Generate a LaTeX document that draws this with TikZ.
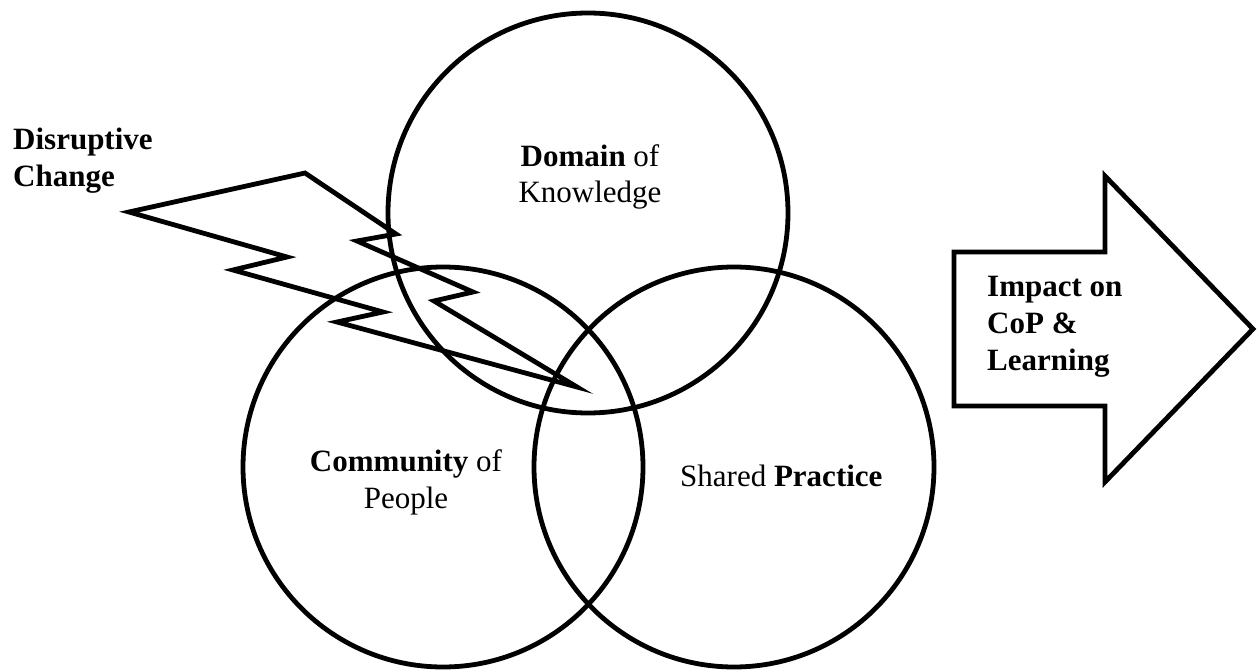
\documentclass[tikz,border=0pt]{standalone}
\usepackage{fontspec}
\setmainfont{Liberation Serif}
\begin{document}
\begin{tikzpicture}[x=1pt,y=-1pt,
  ring/.style={circle, draw, line width=4.8pt, minimum size=400pt, inner sep=0pt},
  lbl/.style={font=\fontsize{31}{37}\selectfont, inner sep=0pt, align=center},
  shape line/.style={line width=4.8pt, line join=miter}]
\useasboundingbox (0,0) rectangle (1259,671);
% circles
\node[ring] (dom) at (588,213) {};
\node[ring] (com) at (443,467) {};
\node[ring] (pra) at (734,467) {};
% lightning bolt
\draw[shape line] (129,212) -- (305,173) -- (396,234) -- (357,241) -- (473,292)
  -- (434,301) -- (577,387) -- (337,322) -- (383,312) -- (233,270) -- (287,257) -- cycle;
% arrow
\draw[shape line] (954,252) -- (1105,252) -- (1105,176) -- (1253,329) -- (1105,482)
  -- (1105,406) -- (954,406) -- cycle;
% labels
\node[lbl, anchor=north west, align=left] (dc) at (13,128) {\textbf{Disruptive}\\\textbf{Change}};
\node[lbl, anchor=north, font=\fontsize{31}{36}\selectfont] (dk) at (590,144) {\textbf{Domain} of\\Knowledge};
\node[lbl, anchor=north] (cp) at (406,449) {\textbf{Community} of\\People};
\node[lbl, anchor=base west] (sp) at (680,486) {Shared \textbf{Practice}};
\node[lbl, anchor=north west, align=left] (ic) at (987,276) {\textbf{Impact on}\\\textbf{CoP \&}\\\textbf{Learning}};
\end{tikzpicture}
\end{document}
